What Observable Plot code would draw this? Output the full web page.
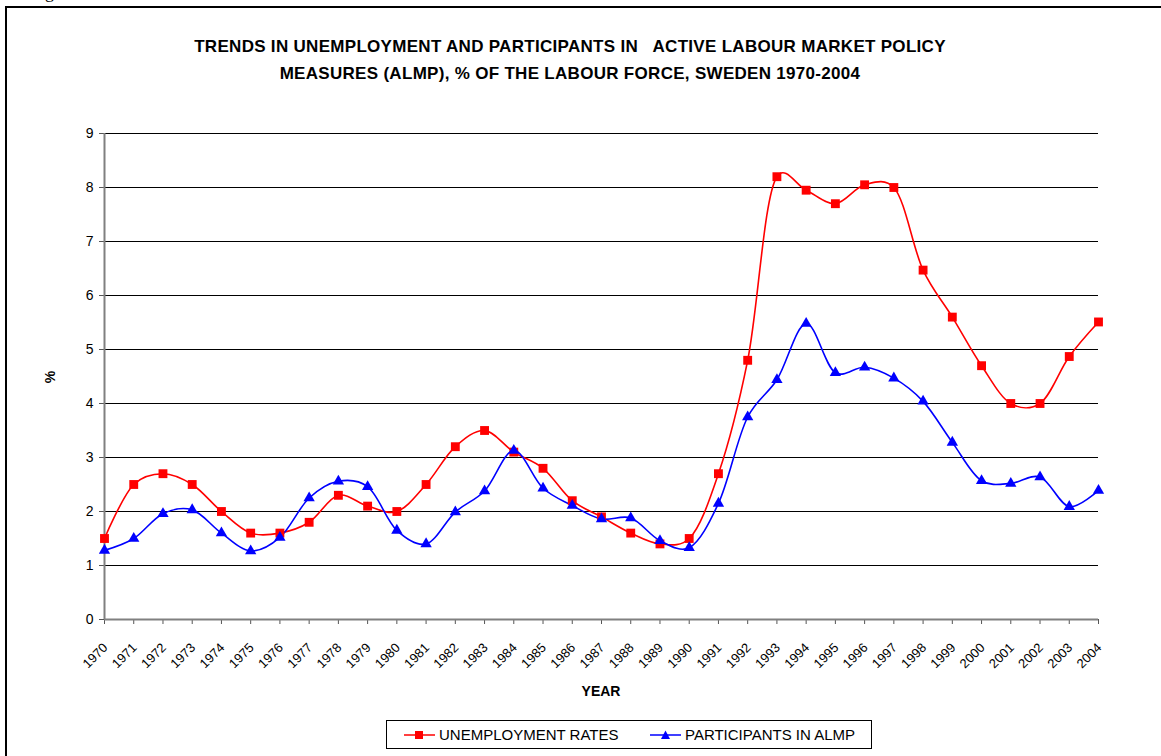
<!DOCTYPE html>
<html><head><meta charset="utf-8">
<script src="https://cdn.jsdelivr.net/npm/d3@7"></script>
<script src="https://cdn.jsdelivr.net/npm/@observablehq/plot@0.6"></script>
<style>
body{margin:0;background:#fff;font-family:"Liberation Sans",Arial,sans-serif;color:#000;}
#page{position:relative;width:1161px;height:756px;overflow:hidden;}
#frame{position:absolute;left:5px;top:6px;width:1170px;height:770px;border:2px solid #000;}
#fig{position:absolute;left:30px;top:-18px;font-family:"Liberation Serif",serif;font-size:18px;white-space:nowrap;}
#title{position:absolute;left:0;width:1140px;top:33px;text-align:center;font-weight:bold;font-size:17px;letter-spacing:0.3px;line-height:27px;white-space:pre;}
#chart{position:absolute;left:0;top:120px;}
#ylab{position:absolute;left:44px;top:369px;font-weight:bold;font-size:14px;transform:rotate(-90deg);transform-origin:center;}
#xlab{position:absolute;left:0;width:1202px;top:683px;text-align:center;font-weight:bold;font-size:14px;}
#legend{position:absolute;left:386px;top:720px;width:484px;height:27px;border:1px solid #000;font-size:15px;}
.item{position:absolute;top:0;height:27px;display:flex;align-items:center;white-space:nowrap;}
.item svg{margin-right:4px;}
</style></head>
<body>
<div id="page">
  <div id="fig">Figure 1</div>
  <div id="frame"></div>
  <div id="title">TRENDS IN UNEMPLOYMENT AND PARTICIPANTS IN   ACTIVE LABOUR MARKET POLICY
MEASURES (ALMP), % OF THE LABOUR FORCE, SWEDEN 1970-2004</div>
  <div id="chart"></div>
  <div id="ylab">%</div>
  <div id="xlab">YEAR</div>
  <div id="legend">
    <div class="item" style="left:17px"><svg width="31" height="12"><line x1="0" y1="6" x2="31" y2="6" stroke="#ff0000" stroke-width="1.5"/><rect x="11" y="2" width="8" height="8" fill="#ff0000"/></svg>UNEMPLOYMENT RATES</div>
    <div class="item" style="left:263px"><svg width="31" height="12"><line x1="0" y1="6" x2="31" y2="6" stroke="#0000ff" stroke-width="1.5"/><path d="M15.5,1.5 L20,10 L11,10 Z" fill="#0000ff"/></svg>PARTICIPANTS IN ALMP</div>
  </div>
</div>
<script>
const years = [1970,1971,1972,1973,1974,1975,1976,1977,1978,1979,1980,1981,1982,1983,1984,1985,1986,1987,1988,1989,1990,1991,1992,1993,1994,1995,1996,1997,1998,1999,2000,2001,2002,2003,2004];
const unemployment = [1.5,2.5,2.7,2.5,2.0,1.6,1.6,1.8,2.3,2.1,2.0,2.5,3.2,3.5,3.1,2.8,2.2,1.9,1.6,1.4,1.5,2.7,4.8,8.2,7.95,7.7,8.05,8.0,6.47,5.6,4.7,4.0,4.0,4.87,5.51];
const almp = [1.28,1.5,1.96,2.03,1.6,1.27,1.52,2.25,2.56,2.46,1.65,1.4,1.99,2.38,3.13,2.43,2.11,1.86,1.88,1.46,1.33,2.15,3.75,4.44,5.48,4.57,4.67,4.47,4.04,3.28,2.57,2.52,2.64,2.09,2.39];
const yTicks = [0,1,2,3,4,5,6,7,8,9];
const gridValues = [1,2,3,4,5,6,7,8,9];

const unemp = years.map((y,i)=>({year:y, value:unemployment[i]}));
const part = years.map((y,i)=>({year:y, value:almp[i]}));
const smooth = d3.curveCatmullRom.alpha(0.25);

const chart = Plot.plot({
  width:1161, height:590,
  marginLeft:104, marginRight:63, marginTop:13, marginBottom:91,
  style:{fontFamily:"Liberation Sans, Arial, sans-serif", color:"#000", background:"transparent", fontSize:"13px"},
  x:{type:"linear", domain:[1970,2004]},
  y:{domain:[0,9]},
  marks:[
    Plot.ruleY(gridValues, {stroke:"#000", strokeWidth:1}),
    Plot.axisY({ticks:yTicks, tickSize:5, tickFormat:()=>"", label:null, stroke:"#555"}),
    Plot.axisX({ticks:years, tickSize:5, tickFormat:()=>"", label:null, stroke:"#555"}),
    Plot.text(yTicks, {x:()=>1970, y:d=>d, text:d=>String(d), textAnchor:"end", dx:-11, fontSize:14, fill:"#000"}),
    Plot.text(years, {x:d=>d, y:()=>0, text:d=>String(d), textAnchor:"end", rotate:-45, dx:1, dy:26, fontSize:13, fill:"#000"}),
    Plot.ruleX([1970], {stroke:"#808080", strokeWidth:2}),
    Plot.ruleY([0], {stroke:"#808080", strokeWidth:2}),
    Plot.line(unemp, {x:"year", y:"value", stroke:"#ff0000", strokeWidth:1.6, curve:smooth}),
    Plot.line(part, {x:"year", y:"value", stroke:"#0000ff", strokeWidth:1.6, curve:smooth}),
    Plot.dot(unemp, {x:"year", y:"value", symbol:"square", r:5, fill:"#ff0000"}),
    Plot.dot(part, {x:"year", y:"value", symbol:"triangle", r:4.2, fill:"#0000ff"})
  ]
});
document.getElementById("chart").appendChild(chart);
</script>
</body></html>
